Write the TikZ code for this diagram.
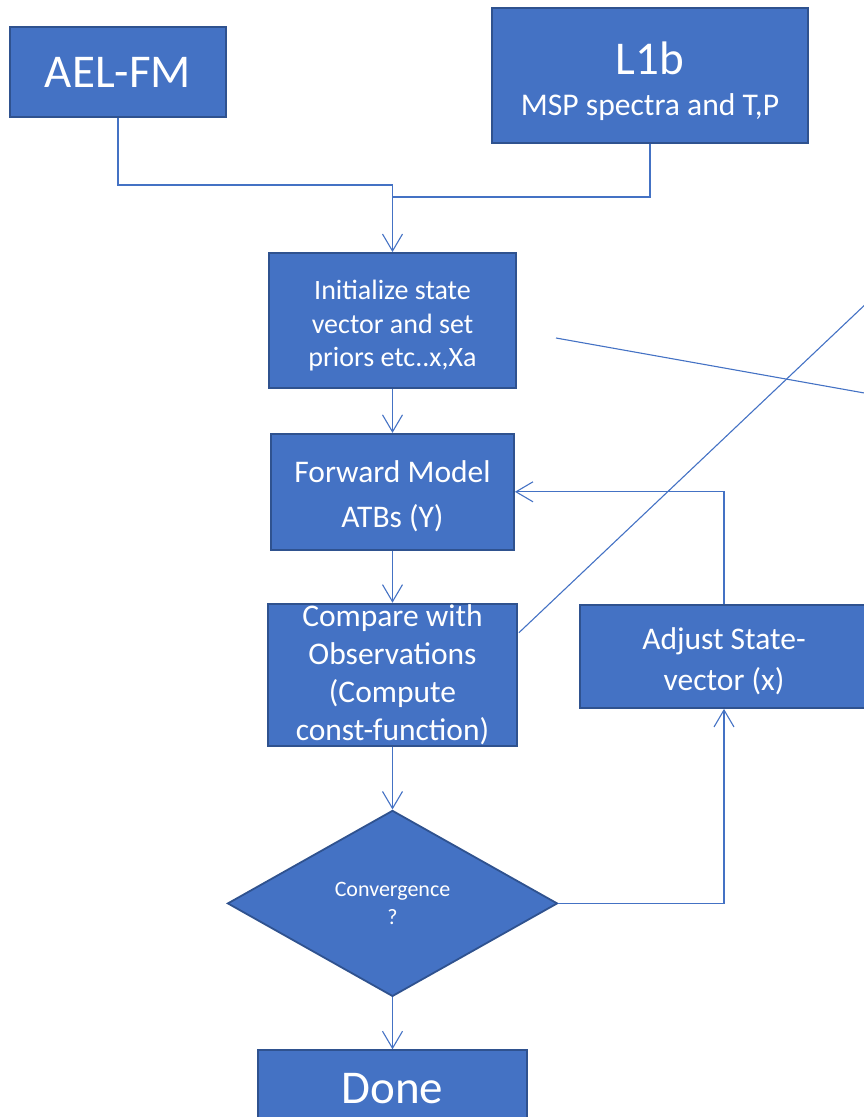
\documentclass[tikz,border=0pt]{standalone}
\usepackage{fontspec}
\setmainfont{Carlito}
\usetikzlibrary{shapes.geometric, arrows.meta, positioning, calc}
\definecolor{boxblue}{HTML}{4472C4}
\definecolor{edgeblue}{HTML}{2F528F}
\newcommand{\fsz}[2]{\fontsize{#1}{#2}\selectfont}
\newcommand{\topstrut}[1]{\rule{0pt}{#1}}

\begin{document}
\begin{tikzpicture}[x=1pt, y=-1pt,
			box/.style = {rectangle, draw=edgeblue, line width=1.8pt, fill=boxblue, text=white, align=center, inner sep=0pt},
			decision/.style = {diamond, draw=edgeblue, line width=1.8pt, fill=boxblue, text=white, align=center, inner sep=0pt},
			conn/.style = {draw=boxblue, line width=1.1pt},
			arr/.style = {conn, -{Straight Barb[length=17pt, width=20pt]}},
		]
			\clip (0,0) rectangle (864,1117);
			% inputs
			\node[box, minimum width=216pt, minimum height=90pt, font=\fsz{47}{56}] (ael) at (118,72) {AEL-FM};
			\node[box, minimum width=316pt, minimum height=135pt, font=\fsz{31.6}{41}] (l1b) at (650,75.5) {{\fsz{47}{50}\topstrut{45pt}L1b}\\MSP spectra and T,P};
			% main column
			\node[box, minimum width=247pt, minimum height=135pt, font=\fsz{28}{33.5}] (init) at (392.5,320.5) {\topstrut{30pt}Initialize state\\vector and set\\priors etc..x,Xa};
			\node[box, minimum width=243pt, minimum height=116pt, font=\fsz{31.5}{45}, below=44pt of init] (fwd) {\topstrut{30pt}Forward Model\\ATBs (Y)};
			\node[box, minimum width=249pt, minimum height=142pt, below=52pt of fwd] (cmp) {};
			\node[align=center, text=white, inner sep=0pt, font=\fsz{31.5}{38}] (cmptxt) at (cmp) {Compare with\\Observations\\(Compute\\const-function)};
			\node[decision, minimum width=330pt, minimum height=186pt, font=\fsz{22}{28}, below=63pt of cmp] (conv) {Convergence\\?};
			\node[box, minimum width=269pt, minimum height=76pt, font=\fsz{47}{56}, below=52pt of conv] (done) {Done};
			% loop back
			\node[box, minimum width=288pt, minimum height=103pt, font=\fsz{31.5}{41}] (adj) at (724,656.5) {\topstrut{32pt}Adjust State-\\vector (x)};

			% free ends
			\coordinate (mrgA) at (init.north |- 0,185);
			\coordinate (mrgB) at (init.north |- 0,197);
			\coordinate (lnA1) at (556,338);
			\coordinate (lnA2) at (870,394);
			\coordinate (lnB1) at ($(cmp.north east)+(1,30)$);
			\coordinate (lnB2) at (870,300);

			% connectors
			\draw[conn] (ael.south) |- (mrgA);
			\draw[conn] (l1b.south) |- (mrgB);
			\draw[arr] (mrgA) -- (init.north);
			\draw[arr] (init) -- (fwd);
			\draw[arr] (fwd) -- (cmp);
			\draw[arr] (cmp) -- (conv);
			\draw[arr] (conv) -- (done);
			\draw[arr] (conv.east) -| (adj.south);
			\draw[arr] (adj.north) |- (fwd.east);
			\draw[conn] (lnA1) -- (lnA2);
			\draw[conn] (lnB1) -- (lnB2);
		\end{tikzpicture}
\end{document}
